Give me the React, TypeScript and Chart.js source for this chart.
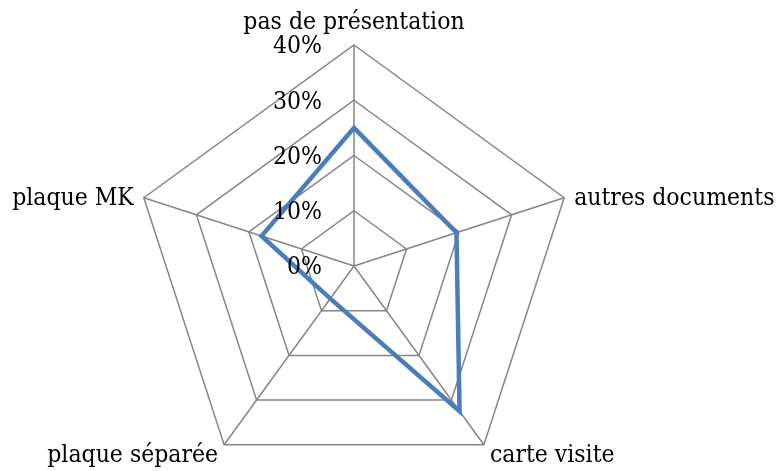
import React, { useEffect, useRef } from "react";
import { Chart, registerables } from "chart.js";

Chart.register(...registerables);

const categories = ["pas de présentation", "autres documents", "carte visite", "plaque séparée", "plaque MK"];
const values = [25, 19.5, 32.5, 7.3, 17.6];
const tickValues = [0, 10, 20, 30, 40];
const tickLabels = ["0%", "10%", "20%", "30%", "40%"];

const FONT = '24.5px "DejaVu Serif Condensed", "DejaVu Serif"';

const labelsPlugin = {
  id: "customLabels",
  afterDatasetsDraw(chart: any) {
    const scale = chart.scales.r;
    const ctx = chart.ctx;
    ctx.save();
    ctx.font = FONT;
    ctx.fillStyle = "#000000";
    ctx.textAlign = "right";
    ctx.textBaseline = "middle";
    tickValues.forEach((v, i) => {
      const d = scale.getDistanceFromCenterForValue(v);
      const p = scale.getPointPosition(0, d);
      ctx.fillText(tickLabels[i], p.x - 32, p.y + 2);
    });
    ctx.textBaseline = "alphabetic";
    categories.forEach((label, i) => {
      const p = scale.getPointPosition(i, scale.drawingArea);
      const dx = p.x - scale.xCenter;
      const dy = p.y - scale.yCenter;
      if (Math.abs(dx) < 2) {
        ctx.textAlign = "center";
        ctx.fillText(label, p.x, dy < 0 ? p.y - 16 : p.y + 24);
      } else if (dy < 0) {
        ctx.textAlign = dx > 0 ? "left" : "right";
        ctx.fillText(label, p.x + (dx > 0 ? 10 : -10), p.y + 7);
      } else {
        ctx.textAlign = dx > 0 ? "left" : "right";
        ctx.fillText(label, p.x + (dx > 0 ? 6 : -6), p.y + 17);
      }
    });
    ctx.restore();
  },
};

export default function App() {
  const ref = useRef<HTMLCanvasElement>(null);
  useEffect(() => {
    if (!ref.current) return;
    const chart = new Chart(ref.current, {
      type: "radar",
      data: {
        labels: categories,
        datasets: [
          {
            data: values,
            borderColor: "#4a7ebb",
            backgroundColor: "rgba(0,0,0,0)",
            borderWidth: 4.5,
            pointRadius: 0,
            pointHoverRadius: 0,
            fill: false,
            tension: 0,
          },
        ],
      },
      options: {
        responsive: false,
        animation: false,
        layout: { padding: { left: 0, right: 71, top: 45, bottom: 0 } },
        plugins: { legend: { display: false }, tooltip: { enabled: false } },
        scales: {
          r: {
            min: 0,
            max: 40,
            ticks: { display: false, stepSize: 10 },
            pointLabels: { display: false },
            grid: { color: "#868686", lineWidth: 1.5 },
            angleLines: { color: "#868686", lineWidth: 1.5 },
          },
        },
      },
      plugins: [labelsPlugin],
    });
    return () => chart.destroy();
  }, []);
  return (
    <div style={{ position: "fixed", left: 0, top: 0, width: 779, height: 471, overflow: "hidden", background: "#ffffff" }}>
      <canvas ref={ref} width={779} height={487} style={{ display: "block" }} />
    </div>
  );
}
